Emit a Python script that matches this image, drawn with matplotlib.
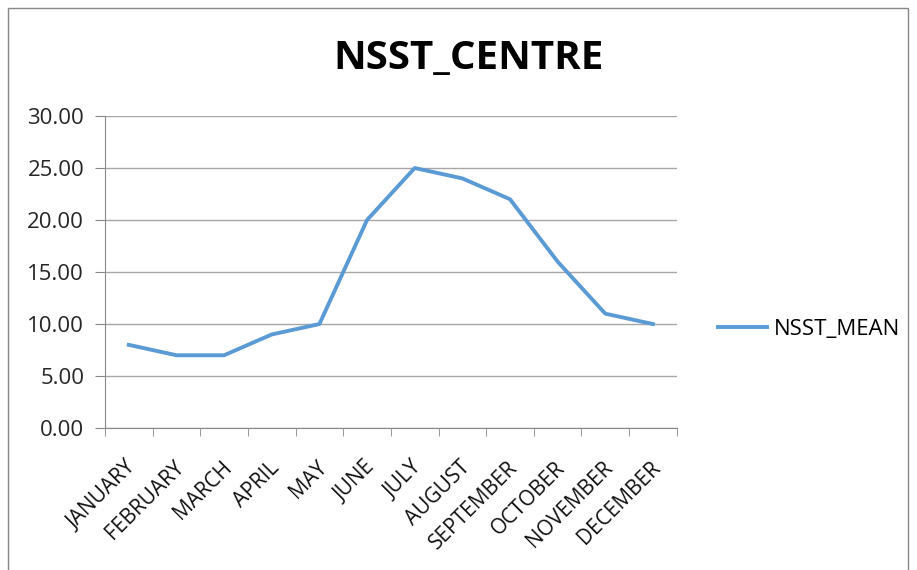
import matplotlib
matplotlib.use("Agg")
import matplotlib.pyplot as plt
from matplotlib.patches import Rectangle
from matplotlib.transforms import ScaledTranslation

months = ["JANUARY", "FEBRUARY", "MARCH", "APRIL", "MAY", "JUNE", "JULY",
          "AUGUST", "SEPTEMBER", "OCTOBER", "NOVEMBER", "DECEMBER"]
nsst_mean = [8, 7, 7, 9, 10, 20, 25, 24, 22, 16, 11, 10]
y_ticks = [0, 5, 10, 15, 20, 25, 30]

plt.rcParams['font.family'] = ['Open Sans', 'DejaVu Sans']

fig = plt.figure(figsize=(9.17, 5.70), dpi=100)
ax = fig.add_axes([0.1145, 0.249, 0.6235, 0.5475])

x = list(range(len(months)))
ax.plot(x, nsst_mean, color="#5B9BD5", lw=2.8, label="NSST_MEAN", solid_joinstyle="round")

ax.set_xlim(-0.5, len(months) - 0.5)
ax.set_ylim(0, 30)
ax.set_yticks(y_ticks)
ax.set_yticklabels([f"{v:.2f}" for v in y_ticks], fontsize=16, color="#262626")
ax.set_xticks(x)
ax.set_xticklabels(months, rotation=45, ha="right", rotation_mode="anchor", fontsize=15, color="#111111")
ax.tick_params(axis="x", length=0, pad=21)
# nudge month labels so their ends sit near the category centre
for lbl in ax.get_xticklabels():
    lbl.set_transform(lbl.get_transform() + ScaledTranslation(-0.03, 0, fig.dpi_scale_trans))
ax.set_xticks([i - 0.5 for i in range(len(months) + 1)], minor=True)
ax.tick_params(axis="x", which="minor", length=6, color="#888888", direction="out")
ax.tick_params(axis="y", length=7, color="#888888", pad=8)

ax.grid(axis="y", color="#A6A6A6", lw=1)
ax.set_axisbelow(True)
for s in ["top", "right"]:
    ax.spines[s].set_visible(False)
ax.spines["left"].set_color("#888888")
ax.spines["bottom"].set_color("#888888")

fig.text(0.511, 0.898, "NSST_CENTRE", ha="center", va="center", fontsize=29, fontweight="bold")

ax.legend(loc="center left", bbox_to_anchor=(1.038, 0.317), frameon=False, fontsize=16,
          handlelength=2.2, handletextpad=0.3)

fig.patches.append(Rectangle((0.009, -0.01), 0.981, 0.996, transform=fig.transFigure,
                             fill=False, edgecolor="#888888", lw=1))

fig.savefig("out.png", dpi=100)
